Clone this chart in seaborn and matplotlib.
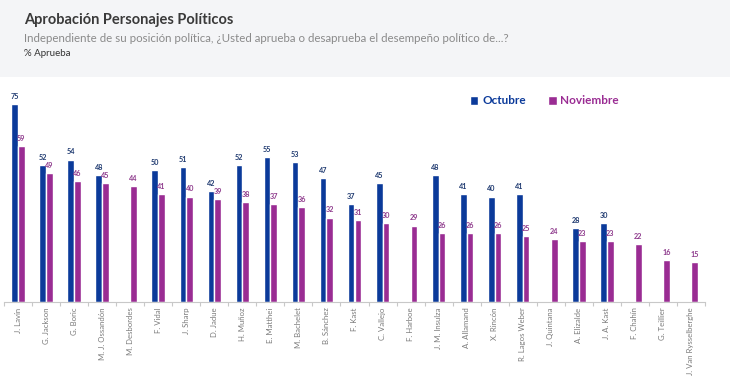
import numpy as np
import pandas as pd
import matplotlib
matplotlib.use("Agg")
import matplotlib.pyplot as plt
from matplotlib.patches import Rectangle, Patch
import seaborn as sns

names = ["J. Lavín", "G. Jackson", "G. Boric", "M. J. Ossandón", "M. Desbordes",
         "F. Vidal", "J. Sharp", "D. Jadue", "H. Muñoz", "E. Matthei",
         "M. Bachelet", "B. Sánchez", "F. Kast", "C. Vallejo", "F. Harboe",
         "J. M. Insulza", "A. Allamand", "X. Rincón", "R. Lagos Weber", "J. Quintana",
         "A. Elizalde", "J. A. Kast", "F. Chahín", "G. Teillier", "J. Van Rysselberghe"]
octubre = [75, 52, 54, 48, np.nan, 50, 51, 42, 52, 55, 53, 47, 37, 45, np.nan,
           48, 41, 40, 41, np.nan, 28, 30, np.nan, np.nan, np.nan]
noviembre = [59, 49, 46, 45, 44, 41, 40, 39, 38, 37, 36, 32, 31, 30, 29,
             26, 26, 26, 25, 24, 23, 23, 22, 16, 15]
series = ["Octubre", "Noviembre"]

blue = "#0b3a9a"
purple = "#9a2c93"
blue_lbl = "#1f3a70"
purple_lbl = "#8e3a8c"

df = pd.DataFrame({
    "Personaje": names * 2,
    "Mes": [series[0]] * len(names) + [series[1]] * len(names),
    "Aprueba": octubre + noviembre,
})

sns.set_theme(style="white")
plt.rcParams["font.family"] = ["Lato", "DejaVu Sans"]

W, H = 730, 387
fig = plt.figure(figsize=(W / 100, H / 100), dpi=100)
fig.patches.append(Rectangle((0, 1 - 77 / H), 1, 77 / H, transform=fig.transFigure,
                             facecolor="#f4f5f7", edgecolor="none", zorder=-1))

ax = fig.add_axes([4 / W, 85 / H, 701 / W, 211 / H])
sns.barplot(data=df, x="Personaje", y="Aprueba", hue="Mes", hue_order=series,
            order=names, palette=[blue, purple], width=0.48, saturation=1,
            ax=ax, legend=False)
ax.set_xlim(-0.5, len(names) - 0.5)
ax.set_ylim(0, 80)

for cont, col in zip(ax.containers, [blue_lbl, purple_lbl]):
    labels = ["" if np.isnan(v) else f"{v:.0f}" for v in cont.datavalues]
    ax.bar_label(cont, labels=labels, padding=3, fontsize=5.2, fontweight="bold", color=col)

for s in ["top", "right", "left"]:
    ax.spines[s].set_visible(False)
ax.spines["bottom"].set_color("#c8c8c8")
ax.spines["bottom"].set_linewidth(0.8)
ax.set_yticks([])
ax.set_xlabel("")
ax.set_ylabel("")
ax.set_xticks(range(len(names)))
ax.set_xticklabels(names, rotation=90, fontsize=5.6, color="#7a7a7a")
ax.set_xticks(np.arange(-0.5, len(names), 1), minor=True)
ax.tick_params(axis="x", which="major", length=0, pad=4)
ax.tick_params(axis="x", which="minor", length=3, color="#c8c8c8", width=0.8, bottom=True)

handles = [Patch(facecolor=blue), Patch(facecolor=purple)]
leg = fig.legend(handles, series, loc="center left", bbox_to_anchor=(459 / W, 1 - 101 / H),
                 ncol=2, frameon=False, handlelength=0.75, handleheight=0.75,
                 handletextpad=0.3, columnspacing=1.9, prop={"weight": "bold", "size": 8.5})
for t, c in zip(leg.get_texts(), [blue, purple]):
    t.set_color(c)

fig.text(24 / W, 1 - 20 / H, "Aprobación Personajes Políticos", fontsize=10.5,
         fontweight="bold", color="#3a3a3a", va="center", ha="left")
fig.text(24 / W, 1 - 38 / H,
         "Independiente de su posición política, ¿Usted aprueba o desaprueba el desempeño político de...?",
         fontsize=8.3, color="#8a8a8a", va="center", ha="left")
fig.text(24 / W, 1 - 53 / H, "% Aprueba", fontsize=7, color="#333333",
         va="center", ha="left")

fig.savefig("out.png", dpi=100, facecolor="white")
